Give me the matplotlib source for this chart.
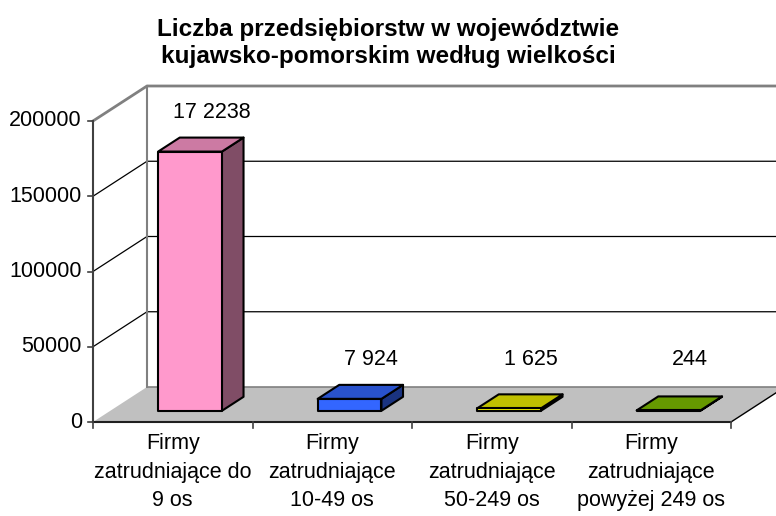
import matplotlib
matplotlib.use("Agg")
import matplotlib.pyplot as plt
from matplotlib.patches import Polygon
from matplotlib.colors import to_rgb

# ---- data ----
categories = ["Firmy\nzatrudniające do\n9 os",
              "Firmy\nzatrudniające\n10-49 os",
              "Firmy\nzatrudniające\n50-249 os",
              "Firmy\nzatrudniające\npowyżej 249 os"]
values = [172238, 7924, 1625, 244]
value_labels = ["17 2238", "7 924", "1 625", "244"]
y_ticks = [0, 50000, 100000, 150000, 200000]
y_tick_labels = ["0", "50000", "100000", "150000", "200000"]
title = "Liczba przedsiębiorstw w województwie\nkujawsko-pomorskim według wielkości"

# ---- style ----
front_colors = ["#FF99CC", "#3366FF", "#F0F000", "#80BF00"]
TOP_F, SIDE_F = 0.8, 0.5
FONT = ["Liberation Sans", "DejaVu Sans"]
FS = 15.5

W, H, DPI = 776, 516, 100
# pixel geometry of the pseudo-3D frame
X0_PX, X4_PX = 93, 731          # front axis left / right
Y0_PX, YTOP_PX = 422, 121       # value 0 and ymax at the front (from top)
YMAX = 200000
DEPTH_PX = (54, 35)
BAR_F0, BAR_F1 = 0.32, 0.72
BAR_W = 0.4
LABEL_MIN = 8000

ncat = len(categories)
px_per_cat = (X4_PX - X0_PX) / ncat
units_per_px = YMAX / (Y0_PX - YTOP_PX)
DX = DEPTH_PX[0] / px_per_cat
DY = DEPTH_PX[1] * units_per_px

fig = plt.figure(figsize=(W / DPI, H / DPI), dpi=DPI)
ax = fig.add_axes([0, 0, 1, 1])
ax.set_xlim(-X0_PX / px_per_cat, (W - X0_PX) / px_per_cat)
ax.set_ylim(-(H - Y0_PX) * units_per_px, Y0_PX * units_per_px)
ax.axis("off")

def shade(c, f):
    r, g, b = to_rgb(c)
    return (r * f, g * f, b * f)

# walls
ax.add_patch(Polygon([(0, 0), (DX, DY), (DX, YMAX + DY), (0, YMAX)],
                     closed=True, fc="white", ec="none", zorder=1))
ax.add_patch(Polygon([(DX, DY), (ncat + DX, DY), (ncat + DX, YMAX + DY), (DX, YMAX + DY)],
                     closed=True, fc="white", ec="none", zorder=1))
# floor
ax.add_patch(Polygon([(0, 0), (ncat, 0), (ncat + DX, DY), (DX, DY)],
                     closed=True, fc="#C0C0C0", ec="none", zorder=2))
ax.plot([DX, ncat + DX], [DY, DY], color="#808080", lw=1.2, zorder=3)
ax.plot([ncat, ncat + DX], [0, DY], color="black", lw=1, zorder=3)

# gridlines
for t in y_ticks[1:-1]:
    ax.plot([0, DX, ncat + DX], [t, t + DY, t + DY], color="black", lw=0.9, zorder=3)
# frame edges
ax.plot([0, DX, ncat + DX], [YMAX, YMAX + DY, YMAX + DY], color="#808080", lw=2, zorder=3)
ax.plot([DX, DX], [DY, YMAX + DY], color="#808080", lw=1.5, zorder=3)
# axes
ax.plot([0, 0], [0, YMAX], color="#404040", lw=1.5, zorder=4)
ax.plot([0, ncat], [0, 0], color="#202020", lw=1.5, zorder=4)
tick_x = 5 / px_per_cat
tick_y = 6 * units_per_px
for t, lab in zip(y_ticks, y_tick_labels):
    ax.plot([-tick_x, 0], [t, t], color="#404040", lw=1.2, zorder=4)
    ax.text(-11 / px_per_cat, t, lab, ha="right", va="center",
            fontsize=FS, family=FONT, color="black")
for i in range(ncat + 1):
    ax.plot([i, i], [0, -tick_y], color="#404040", lw=1.2, zorder=4)
for i, c in enumerate(categories):
    ax.text(i + 0.5, -11 * units_per_px, c, ha="center", va="top",
            fontsize=FS, family=FONT, linespacing=1.48, color="black")

# bars
for i, (v, col) in enumerate(zip(values, front_colors)):
    cx = i + 0.5
    x0, x1 = cx - BAR_W / 2, cx + BAR_W / 2
    fx, fy = BAR_F0 * DX, BAR_F0 * DY
    bx, by = BAR_F1 * DX, BAR_F1 * DY
    front = [(x0 + fx, fy), (x1 + fx, fy), (x1 + fx, fy + v), (x0 + fx, fy + v)]
    top = [(x0 + fx, fy + v), (x1 + fx, fy + v), (x1 + bx, by + v), (x0 + bx, by + v)]
    side = [(x1 + fx, fy), (x1 + bx, by), (x1 + bx, by + v), (x1 + fx, fy + v)]
    for poly, fc in ((side, shade(col, SIDE_F)), (top, shade(col, TOP_F)), (front, col)):
        ax.add_patch(Polygon(poly, closed=True, fc=fc, ec="black", lw=1.5,
                             joinstyle="round", zorder=5))
    ly = max(v, LABEL_MIN) + by + 25 * units_per_px
    ax.text(cx + bx, ly, value_labels[i], ha="center", va="center",
            fontsize=FS, family=FONT, color="black", zorder=6)

fig.text(0.5, 1 - 43 / H, title, ha="center", va="center", fontsize=17.5,
         fontweight="bold", family=FONT, linespacing=1.25)

fig.savefig("out.png", dpi=DPI)
